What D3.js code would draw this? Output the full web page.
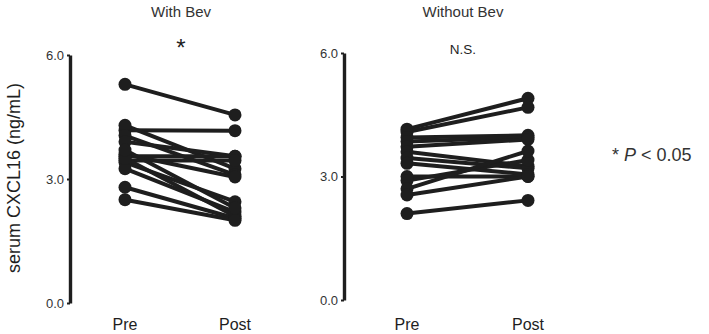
<!DOCTYPE html>
<html>
<head>
<meta charset="utf-8">
<script src="https://cdn.jsdelivr.net/npm/d3@7"></script>
<style>
  html, body { margin: 0; padding: 0; background: #fff; }
  svg { display: block; font-family: "Liberation Sans", Arial, Helvetica, sans-serif; }
</style>
</head>
<body>
<svg id="chart" width="709" height="334"></svg>
<script>
// Serum CXCL16 (ng/mL) before and after treatment, one pair per patient
const timepoints = ["Pre", "Post"];
const withBevPre  = [5.29, 4.18, 4.30, 4.05, 3.90, 3.55, 3.45, 3.60, 3.40, 3.25, 3.50, 2.80, 2.50, 3.70];
const withBevPost = [4.55, 4.17, 3.25, 3.10, 3.55, 3.55, 3.45, 3.05, 2.45, 2.20, 2.10, 2.05, 2.00, 2.30];
const withoutBevPre  = [4.15, 4.08, 3.95, 3.85, 3.72, 3.60, 3.45, 3.32, 3.00, 2.90, 2.70, 2.55, 2.10];
const withoutBevPost = [4.90, 4.68, 4.00, 3.95, 3.90, 3.25, 3.20, 3.05, 3.00, 3.40, 3.62, 3.00, 2.42];
const yTicks = [0, 3, 6];
const panels = [
  { title: "With Bev", note: "*", pre: withBevPre, post: withBevPost },
  { title: "Without Bev", note: "N.S.", pre: withoutBevPre, post: withoutBevPost }
];

const ink = "#1e1e1e";
const svg = d3.select("#chart");

const layout = [
  { axisX: 70, xRange: [125, 235], yRange: [303, 55], titleX: 181, noteY: 56, noteSize: 24 },
  { axisX: 344, xRange: [407, 528], yRange: [300, 53], titleX: 463, noteY: 54, noteSize: 13.5 }
];

panels.forEach((p, i) => {
  const L = layout[i];
  const x = d3.scalePoint().domain(timepoints).range(L.xRange);
  const y = d3.scaleLinear().domain([0, 6]).range(L.yRange);
  const g = svg.append("g");

  // y axis
  const ax = g.append("g")
    .attr("transform", `translate(${L.axisX},0)`)
    .call(d3.axisLeft(y).tickValues(yTicks).tickFormat(d3.format(".1f")).tickSize(3).tickPadding(3).tickSizeOuter(0));
  ax.select(".domain").attr("stroke", ink).attr("stroke-width", 3.4);
  ax.selectAll(".tick line").attr("stroke", ink).attr("stroke-width", 2);
  ax.selectAll(".tick text").attr("fill", "#333").attr("font-size", 13)
    .attr("font-family", "Liberation Sans, Arial, sans-serif");

  // x category labels
  g.selectAll("text.cat").data(timepoints).join("text")
    .attr("class", "cat")
    .attr("x", d => x(d)).attr("y", 330)
    .attr("text-anchor", "middle").attr("font-size", 16).attr("fill", ink)
    .text(d => d);

  // panel title and significance note
  g.append("text").attr("x", L.titleX).attr("y", 17)
    .attr("text-anchor", "middle").attr("font-size", 15).attr("fill", "#333").text(p.title);
  g.append("text").attr("x", L.titleX).attr("y", L.noteY)
    .attr("text-anchor", "middle").attr("font-size", L.noteSize).attr("fill", ink).text(p.note);

  const pairs = p.pre.map((v, k) => ({ pre: v, post: p.post[k] }));

  // connecting lines
  g.selectAll("line.pair").data(pairs).join("line")
    .attr("class", "pair")
    .attr("x1", x("Pre")).attr("y1", d => y(d.pre))
    .attr("x2", x("Post")).attr("y2", d => y(d.post))
    .attr("stroke", ink).attr("stroke-width", 4).attr("stroke-linecap", "round");

  // points
  const pts = pairs.flatMap(d => [{ t: "Pre", v: d.pre }, { t: "Post", v: d.post }]);
  g.selectAll("circle").data(pts).join("circle")
    .attr("cx", d => x(d.t)).attr("cy", d => y(d.v)).attr("r", 6.5)
    .attr("fill", ink);
});

// y-axis title
svg.append("text")
  .attr("transform", "translate(20,178) rotate(-90)")
  .attr("text-anchor", "middle").attr("font-size", 18).attr("fill", ink)
  .text("serum CXCL16 (ng/mL)");

// significance key
const key = svg.append("text").attr("x", 612).attr("y", 161).attr("font-size", 18).attr("fill", "#333");
key.append("tspan").text("* ");
key.append("tspan").attr("font-style", "italic").text("P");
key.append("tspan").text(" < 0.05");
</script>
</body>
</html>
